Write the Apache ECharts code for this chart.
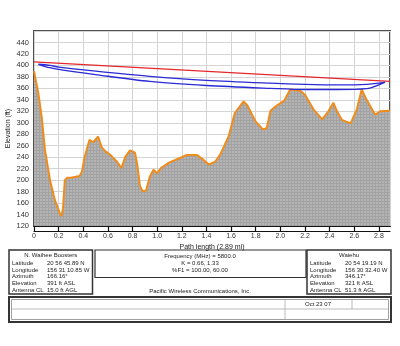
<!DOCTYPE html>
<html><head><meta charset="utf-8">
<script src="https://cdn.jsdelivr.net/npm/echarts@6/dist/echarts.min.js"></script>
<style>html,body{margin:0;padding:0;background:#fff}#c{width:400px;height:346px}</style>
</head><body><div id="c"></div>
<script>
// Terrain profile: distance (mi), elevation (ft)
const terrainDist = [0,0.035,0.062,0.089,0.13,0.17,0.21,0.222,0.235,0.25,0.27,0.3,0.37,0.39,0.41,0.45,0.48,0.52,0.55,0.58,0.62,0.67,0.71,0.74,0.78,0.82,0.84,0.86,0.88,0.91,0.94,0.97,1.0,1.03,1.1,1.19,1.24,1.32,1.36,1.42,1.47,1.51,1.58,1.63,1.70,1.73,1.80,1.86,1.89,1.92,1.97,2.03,2.08,2.16,2.20,2.27,2.34,2.39,2.43,2.46,2.50,2.57,2.62,2.66,2.70,2.77,2.81,2.89];
const terrainElev = [390,352,311,253,200,165,142,137,150,200,204,204,207,215,240,270,266,276,257,250,244,233,221,240,252,248,225,190,181,182,206,218,212,221,231,239,244,244,238,227,232,244,276,317,337,331,302,288,291,321,330,338,358,356,349,323,306,320,335,320,305,299,323,358,340,314,320,321];
// Line of sight
const losDist = [0, 2.89];
const losElev = [406, 372.3];
// Fresnel zone band (upper and lower edges)
const fzDist  = [0.035,0.13,0.2,0.5,0.94,1.4,1.92,2.2,2.46,2.7,2.85];
const fzUpper = [402,400,397,390,381,374,369,367,366,367,371];
const fzLower = [402,396,393,384,372,365,360,358,358,359.5,370];
// Axis ticks
const xTicks = [0,0.2,0.4,0.6,0.8,1.0,1.2,1.4,1.6,1.8,2.0,2.2,2.4,2.6,2.8];
const yTicks = [120,140,160,180,200,220,240,260,280,300,320,340,360,380,400,420,440];
// Site info
const siteA = {name:'N. Waihee Boosters', rows:[['Latitude','20 56 45.89 N'],['Longitude','156 31 10.85 W'],['Azimuth','166.16°'],['Elevation','391 ft ASL'],['Antenna CL','15.0 ft AGL']]};
const siteB = {name:'Waiehu', rows:[['Latitude','20 54 19.19 N'],['Longitude','156 30 32.40 W'],['Azimuth','346.17°'],['Elevation','321 ft ASL'],['Antenna CL','51.3 ft AGL']]};
const midLines = ['Frequency (MHz) = 5800.0','K = 0.66, 1.33','%F1 = 100.00, 60.00'];
const company = 'Pacific Wireless Communications, Inc.';
const dateText = 'Oct 23 07';

const FONT = 'Liberation Sans, Arial, sans-serif';
const TF = '6px ' + FONT;
const terrain = terrainDist.map((d,i)=>[d, terrainElev[i]]);
const los = losDist.map((d,i)=>[d, losElev[i]]);
const fz = fzDist.map((d,i)=>[d, fzUpper[i]]).concat(fzDist.map((d,i)=>[d, fzLower[i]]).reverse());

// fill pattern
const pc = document.createElement('canvas'); pc.width = 3; pc.height = 3;
const px = pc.getContext('2d'); px.fillStyle = '#b4b4b4'; px.fillRect(0,0,3,3);
px.fillStyle = '#a2a2a2'; px.fillRect(0,0,3,1); px.fillRect(0,0,1,3);

function siteGraphics(site, x0, y0, w, h, valX) {
  const g = [{type:'rect', shape:{x:x0,y:y0,width:w,height:h}, style:{fill:'#fff', stroke:'#333', lineWidth:1.5}},
    {type:'text', x:x0+w/2, y:y0+5.5, style:{text:site.name, font:TF, fill:'#222', textAlign:'center', textVerticalAlign:'middle'}}];
  site.rows.forEach((r,i)=>{
    g.push({type:'text', x:x0+3, y:y0+13.5+i*6.6, style:{text:r[0], font:TF, fill:'#222', textVerticalAlign:'middle'}});
    g.push({type:'text', x:valX, y:y0+13.5+i*6.6, style:{text:r[1], font:TF, fill:'#222', textVerticalAlign:'middle'}});
  });
  return g;
}

const graphics = [].concat(
  siteGraphics(siteA, 9, 250, 83.5, 44, 47),
  siteGraphics(siteB, 307, 250, 84, 44, 345),
  [{type:'rect', shape:{x:95,y:250,width:211,height:27.5}, style:{fill:'#fff', stroke:'#333', lineWidth:1.2}}],
  midLines.map((t,i)=>({type:'text', x:200, y:256+i*7, style:{text:t, font:TF, fill:'#222', textAlign:'center', textVerticalAlign:'middle'}})),
  [{type:'text', x:200, y:291, style:{text:company, font:TF, fill:'#222', textAlign:'center', textVerticalAlign:'middle'}},
   {type:'rect', shape:{x:9,y:297,width:382,height:25}, style:{fill:'#fff', stroke:'#333', lineWidth:2}},
   {type:'rect', shape:{x:11.5,y:299.5,width:377,height:20}, style:{fill:'none', stroke:'#888', lineWidth:0.8}},
   {type:'line', shape:{x1:11.5,y1:309,x2:388.5,y2:309}, style:{stroke:'#aaa', lineWidth:0.8}},
   {type:'line', shape:{x1:285,y1:299.5,x2:285,y2:319.5}, style:{stroke:'#aaa', lineWidth:0.8}},
   {type:'line', shape:{x1:352,y1:299.5,x2:352,y2:309}, style:{stroke:'#aaa', lineWidth:0.8}},
   {type:'text', x:318, y:304, style:{text:dateText, font:TF, fill:'#222', textAlign:'center', textVerticalAlign:'middle'}}]
);

const chart = echarts.init(document.getElementById('c'), null, {renderer:'canvas'});
chart.setOption({
  animation:false,
  backgroundColor:'#fff',
  grid:{left:34, right:10, top:31, bottom:120, containLabel:false, outerBoundsMode:'none',
    show:true, borderColor:'#505050', borderWidth:2, backgroundColor:'#fff'},
  xAxis:[{type:'value', min:0, max:2.89, interval:0.2,
    name:'Path length (2.89 mi)', nameLocation:'middle', nameGap:18, nameMoveOverlap:false,
    nameTextStyle:{fontSize:7, color:'#222', fontFamily:FONT},
    axisLine:{show:true, lineStyle:{color:'#111', width:1.2}},
    axisTick:{show:true, length:5, lineStyle:{color:'#111', width:1.2}},
    axisLabel:{fontSize:7, color:'#333', fontFamily:FONT, margin:7, showMaxLabel:false,
      formatter:v=>{const t=xTicks.find(k=>Math.abs(k-v)<1e-6); return t===undefined?'':(t===0?'0':t.toFixed(1));}},
    splitLine:{show:true, lineStyle:{color:'#d4d4d4', width:1}}},
   {type:'value', min:0, max:2.89, interval:0.2, position:'bottom', offset:5,
    axisLine:{show:true, lineStyle:{color:'#111', width:1.2}}, axisTick:{show:false}, axisLabel:{show:false}, splitLine:{show:false}}],
  yAxis:{type:'value', min:120, max:460, interval:20,
    name:'Elevation (ft)', nameLocation:'middle', nameGap:22, nameMoveOverlap:false,
    nameTextStyle:{fontSize:7, color:'#222', fontFamily:FONT},
    axisLine:{show:false}, axisTick:{show:false},
    axisLabel:{fontSize:7.5, color:'#333', fontFamily:FONT, margin:5,
      formatter:v=>yTicks.indexOf(v)>=0?String(v):''},
    splitLine:{show:true, lineStyle:{color:'#d4d4d4', width:1}}},
  series:[
    {type:'line', data:terrain, symbol:'none', lineStyle:{color:'#f08c1c', width:2},
     areaStyle:{origin:'start', color:{image:pc, repeat:'repeat'}, opacity:1}, z:2},
    {type:'line', data:los, symbol:'none', lineStyle:{color:'#e5262c', width:1.3}, z:3},
    {type:'line', data:fz, symbol:'none', smooth:0.3, lineStyle:{color:'#2a2ad6', width:1.3}, z:3}
  ],
  graphic:graphics
});
</script></body></html>
